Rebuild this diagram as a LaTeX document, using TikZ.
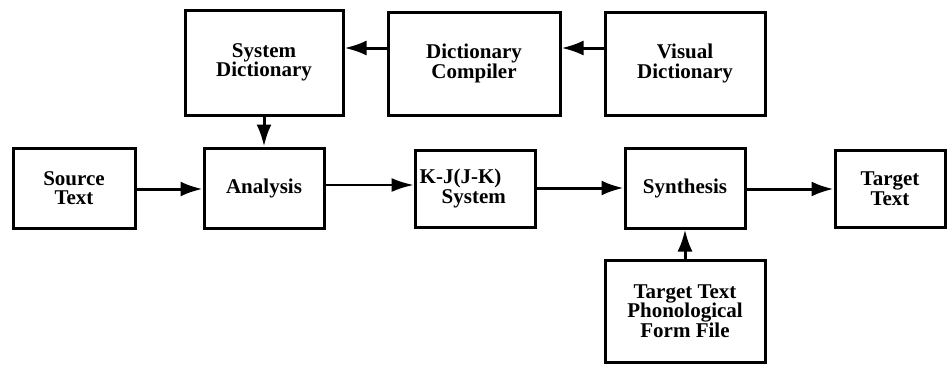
\documentclass[tikz,border=0pt]{standalone}
\usepackage{fontspec}
\setmainfont{Liberation Serif}
\usetikzlibrary{arrows.meta}
\tikzset{
  blk/.style={draw, line width=3pt, align=center, inner sep=2pt,
    font=\bfseries\fontsize{21}{19.5}\selectfont},
  lbl/.style={align=left, inner sep=0pt,
    font=\bfseries\fontsize{21}{19.5}\selectfont},
  conn/.style={line width=3pt, -{Latex[length=22pt,width=15pt]}},
  thinconn/.style={line width=2pt, -{Latex[length=22pt,width=14pt]}}
}
\begin{document}
\begin{tikzpicture}[x=1pt,y=-1pt]
\useasboundingbox (0,0) rectangle (947,364);
\node[blk, minimum width=158pt, minimum height=105pt] (sd) at (264,62.5) {System\\Dictionary};
\node[blk, minimum width=172pt, minimum height=103pt] (dc) at (474,63.5) {Dictionary\\Compiler};
\node[blk, minimum width=160pt, minimum height=103pt] (vd) at (685,63.5) {Visual\\Dictionary};
\node[blk, minimum width=122pt, minimum height=80pt] (src) at (74,188) {Source\\Text};
\node[blk, minimum width=120pt, minimum height=80pt] (an) at (264,188) {Analysis};
\node[blk, minimum width=120pt, minimum height=77pt] (kj) at (475,188.5) {};
\node[lbl, anchor=west] (kjt) at ([xshift=6pt]kj.west) {K-J(J-K)\\\hspace*{22pt}System};
\node[blk, minimum width=120pt, minimum height=80pt] (syn) at (685,188) {Synthesis};
\node[blk, minimum width=110pt, minimum height=77pt] (tt) at (890,188.5) {Target\\Text};
\node[blk, minimum width=160pt, minimum height=102pt] (ph) at (685,311) {Target Text\\Phonological\\Form File};
\draw[conn] (dc.west |- 0,48) -- (sd.east |- 0,48);
\draw[conn] (vd.west |- 0,48) -- (dc.east |- 0,48);
\draw[conn] (sd.south) -- (an.north);
\draw[conn] (src.east |- 0,189) -- (an.west |- 0,189);
\draw[thinconn] (an.east |- 0,185) -- (kj.west |- 0,185);
\draw[conn] (kj.east |- 0,188) -- (syn.west |- 0,188);
\draw[conn] (syn.east |- 0,189) -- (tt.west |- 0,189);
\draw[conn] (ph.north) -- (syn.south);
\end{tikzpicture}
\end{document}
